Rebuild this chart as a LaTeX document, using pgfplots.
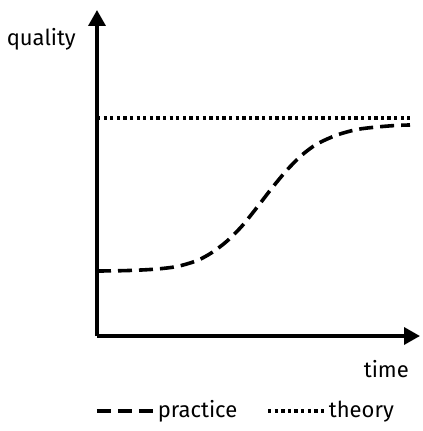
\documentclass[border=0pt]{standalone}
\usepackage{pgfplots}
\pgfplotsset{compat=1.18}
\usepackage{fontspec}
\setmainfont{Fira Sans}
\usetikzlibrary{arrows.meta,calc}
\begin{document}
\fontsize{22bp}{26bp}\selectfont
\begin{tikzpicture}
\begin{axis}[
  scale only axis,
  width=323bp, height=326bp,
  xmin=0, xmax=323, ymin=0, ymax=326,
  axis lines=left,
  axis line style={line width=3.4bp, -{Triangle[length=16bp,width=17bp]}},
  ticks=none,
  clip=false,
  legend columns=2,
  legend style={at={(axis cs:-2,-75)}, anchor=west, draw=none, fill=none, inner sep=0pt,
    font=\fontsize{22bp}{26bp}\selectfont,
    /tikz/every even column/.append style={column sep=27bp}},
  legend image code/.code={\draw[#1] (0bp,0bp) -- (57bp,0bp);},
]
\addplot[line width=3.6bp, dash pattern=on 14bp off 7bp, smooth] coordinates {
(0,65) (20,65.2) (40,65.8) (60,67) (80,69.5) (100,75.4) (115,83.5) (130,94.9) (145,110)
(160,128.6) (175,148) (190,166) (205,181) (220,192) (240,201) (260,206.5) (280,209) (300,210.6) (313,211)};
\addlegendentry{practice}
\addplot[line width=3.6bp, dash pattern=on 3.3bp off 3.3bp] coordinates {(0,218) (313,218)};
\addlegendentry{theory}
\node[anchor=base east, inner sep=0pt] at (axis cs:-21,290) {quality};
\node[anchor=base east, inner sep=0pt] at (axis cs:312,-41) {time};
\coordinate (O) at (axis cs:0,0);
\end{axis}
\path[use as bounding box] ($(O)+(-97bp,-95bp)$) rectangle ($(O)+(326bp,336bp)$);
\end{tikzpicture}
\end{document}
